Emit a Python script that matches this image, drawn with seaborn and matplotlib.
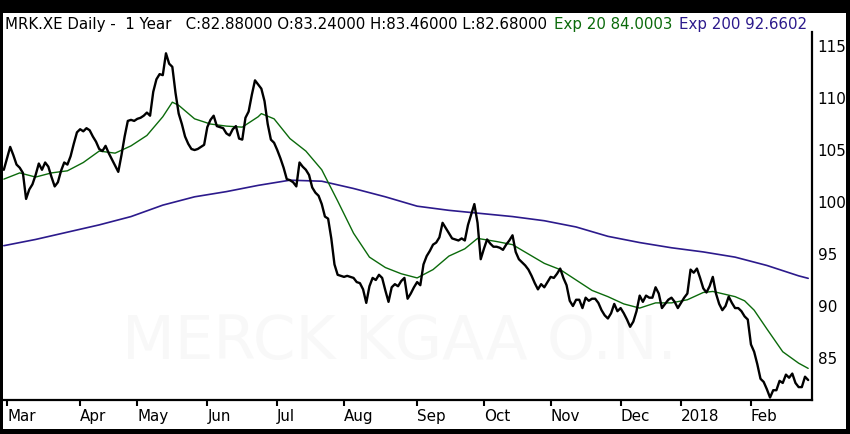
import pandas as pd
import numpy as np
import matplotlib
matplotlib.use("Agg")
import matplotlib.pyplot as plt
import seaborn as sns
from matplotlib.patches import Rectangle

# Xetra trading calendar, 28 Feb 2017 - 27 Feb 2018
holidays = ["2017-04-14", "2017-04-17", "2017-05-01", "2017-10-03",
            "2017-12-25", "2017-12-26", "2018-01-01"]

# daily closes, one list per month
close_feb17 = [103.1]
close_mar = [104.2, 105.3, 104.5, 103.6, 103.3, 102.8, 100.3, 101.2, 101.7, 102.6, 103.7, 103.1,
             103.8, 103.4, 102.4, 101.5, 101.9, 103.0, 103.8, 103.6, 104.4, 105.6, 106.7]
close_apr = [107.0, 106.8, 107.1, 106.9, 106.3, 105.8, 105.1, 104.9, 105.4, 104.7, 104.1, 103.5,
             102.9, 104.5, 106.3, 107.8, 107.9, 107.8]
close_may = [108.0, 108.1, 108.3, 108.6, 108.3, 110.6, 111.8, 112.3, 112.2, 114.3, 113.3, 113.0,
             110.5, 108.5, 107.5, 106.3, 105.6, 105.1, 105.0, 105.1, 105.3, 105.5]
close_jun = [107.2, 107.9, 108.3, 107.3, 107.2, 107.1, 106.6, 106.4, 107.0, 107.3, 106.1, 106.0,
             108.1, 108.7, 110.3, 111.7, 111.3, 110.9, 109.7, 107.5, 106.0, 105.7]
close_jul = [105.0, 104.2, 103.3, 102.2, 102.1, 101.9, 101.5, 103.8, 103.4, 103.1, 102.6, 101.4,
             100.9, 100.6, 99.8, 98.6, 98.4, 96.5, 94.0, 93.0, 92.9]
close_aug = [92.8, 92.9, 92.8, 92.7, 92.3, 92.2, 91.6, 90.3, 91.9, 92.7, 92.5, 93.0,
             92.7, 91.5, 90.4, 91.8, 92.1, 91.9, 92.4, 92.7, 90.7, 91.2, 91.8]
close_sep = [92.3, 92.0, 94.0, 94.8, 95.3, 95.9, 96.1, 96.6, 98.0, 97.5, 97.0, 96.5,
             96.4, 96.3, 96.5, 96.3, 97.8, 98.8, 99.8, 98.0, 94.5]
close_oct = [95.5, 96.4, 96.0, 95.7, 95.7, 95.6, 95.4, 95.9, 96.3, 96.8, 95.2, 94.5,
             94.2, 93.9, 93.5, 92.9, 92.2, 91.6, 92.1, 91.8, 92.3]
close_nov = [92.8, 92.7, 93.1, 93.6, 92.7, 92.0, 90.5, 90.0, 90.6, 90.6, 89.8, 90.8,
             90.5, 90.7, 90.7, 90.3, 89.6, 89.1, 88.8, 89.3, 90.2, 89.5]
close_dec = [89.8, 89.3, 88.7, 88.0, 88.5, 89.5, 91.0, 90.4, 91.0, 90.8, 90.8, 91.8,
             91.2, 89.8, 90.2, 90.6, 90.8, 90.4, 89.8]
close_jan = [90.3, 90.8, 91.2, 93.5, 93.2, 93.6, 92.7, 91.7, 91.3, 91.9, 92.8, 91.2,
             90.2, 89.6, 90.0, 90.9, 90.3, 89.8, 89.8, 89.5, 89.0, 88.7]
close_feb18 = [86.3, 85.6, 84.4, 83.0, 82.7, 82.0, 81.2, 81.9, 81.9, 82.8, 82.6, 83.4,
               83.1, 83.5, 82.6, 82.2, 82.2, 83.2, 82.88]

# 20 day exponential average
ema20_dates = ["2017-02-28", "2017-03-07", "2017-03-14", "2017-03-21", "2017-03-28", "2017-04-04",
               "2017-04-11", "2017-04-20", "2017-04-27", "2017-05-05", "2017-05-12", "2017-05-17",
               "2017-05-19", "2017-05-26", "2017-06-02", "2017-06-09", "2017-06-16", "2017-06-23",
               "2017-06-26", "2017-06-30", "2017-07-07", "2017-07-14", "2017-07-21", "2017-07-28",
               "2017-08-04", "2017-08-11", "2017-08-18", "2017-08-25", "2017-09-01", "2017-09-08",
               "2017-09-15", "2017-09-22", "2017-09-28", "2017-10-09", "2017-10-16", "2017-10-23",
               "2017-10-30", "2017-11-06", "2017-11-13", "2017-11-20", "2017-11-27", "2017-12-04",
               "2017-12-11", "2017-12-18", "2017-12-27", "2018-01-04", "2018-01-11", "2018-01-16",
               "2018-01-25", "2018-01-30", "2018-02-02", "2018-02-08", "2018-02-15", "2018-02-22",
               "2018-02-27"]
ema20_values = [102.2, 102.8, 102.4, 102.8, 103.0, 103.8,
                104.9, 104.7, 105.4, 106.4, 108.2, 109.6,
                109.3, 108.0, 107.5, 107.3, 107.2, 108.2,
                108.5, 108.0, 106.1, 104.9, 103.1, 100.1,
                97.0, 94.7, 93.7, 93.1, 92.7, 93.5,
                94.8, 95.5, 96.5, 96.2, 95.9, 95.0,
                94.1, 93.5, 92.5, 91.5, 90.9, 90.2,
                89.8, 90.3, 90.3, 90.6, 91.3, 91.4,
                90.9, 90.5, 89.6, 87.8, 85.6, 84.5,
                84.0003]

# 200 day exponential average
ema200_dates = ["2017-02-28", "2017-03-14", "2017-03-28", "2017-04-11", "2017-04-27", "2017-05-12",
                "2017-05-26", "2017-06-09", "2017-06-23", "2017-07-07", "2017-07-21", "2017-08-04",
                "2017-08-18", "2017-09-01", "2017-09-15", "2017-09-29", "2017-10-16", "2017-10-30",
                "2017-11-13", "2017-11-27", "2017-12-11", "2017-12-27", "2018-01-11", "2018-01-25",
                "2018-02-08", "2018-02-22", "2018-02-27"]
ema200_values = [95.8, 96.4, 97.1, 97.8, 98.6, 99.7,
                 100.5, 101.0, 101.6, 102.1, 102.0, 101.3,
                 100.5, 99.6, 99.2, 98.9, 98.6, 98.2,
                 97.6, 96.7, 96.1, 95.6, 95.2, 94.7,
                 93.9, 92.9, 92.6602]

y_ticks = [85, 90, 95, 100, 105, 110, 115]

green = "#0b6a0b"
purple = "#2c1a8c"

# build session index
sessions = pd.bdate_range("2017-02-28", "2018-02-27")
sessions = sessions[~sessions.isin(pd.to_datetime(holidays))]
close = (close_feb17 + close_mar + close_apr + close_may + close_jun + close_jul + close_aug
         + close_sep + close_oct + close_nov + close_dec + close_jan + close_feb18)
df = pd.DataFrame({"date": sessions, "close": close})
df["pos"] = np.arange(len(df))

ema20 = pd.DataFrame({"date": pd.to_datetime(ema20_dates), "value": ema20_values})
ema20["pos"] = sessions.get_indexer(ema20["date"])
ema200 = pd.DataFrame({"date": pd.to_datetime(ema200_dates), "value": ema200_values})
ema200["pos"] = sessions.get_indexer(ema200["date"])

# month ticks at first session of each month
month = sessions.to_period("M")
starts = np.flatnonzero(month[1:] != month[:-1]) + 1
month_labels = ["2018" if sessions[i].month == 1 else sessions[i].strftime("%b") for i in starts]

sns.set_style("white")
plt.rcParams["font.family"] = ["DejaVu Sans"]

W, H = 850, 434
fig = plt.figure(figsize=(W / 100, H / 100), dpi=100, facecolor="black")
fig.patches.append(Rectangle((3 / W, 5 / H), 843 / W, 416 / H, transform=fig.transFigure,
                             facecolor="white", edgecolor="none", zorder=-5))
ax = fig.add_axes([3 / W, 34 / H, 809 / W, 368 / H])
ax.set_zorder(1)
ax.set_facecolor("white")

# watermark
ax.text(122 / W, 1 - 343 / H, "MERCK KGAA O.N.", transform=fig.transFigure, fontsize=44,
        color="#f8f8f8", ha="left", va="center", zorder=0.5)

sns.lineplot(data=ema200, x="pos", y="value", ax=ax, color=purple, linewidth=1.2)
sns.lineplot(data=ema20, x="pos", y="value", ax=ax, color=green, linewidth=1.0)
sns.lineplot(data=df, x="pos", y="close", ax=ax, color="black", linewidth=1.7)

ax.set_xlim(-0.26, 254.2)
ax.set_ylim(80.96, 116.35)
ax.set_xlabel("")
ax.set_ylabel("")

ax.set_xticks(starts)
ax.set_xticklabels(month_labels, ha="left", fontsize=10.9)
ax.tick_params(axis="x", direction="out", length=4.5, width=1.5, color="black", pad=2,
               bottom=True, labelcolor="black")

ax.yaxis.tick_right()
ax.set_yticks(y_ticks)
ax.set_yticklabels([str(v) for v in y_ticks], fontsize=10.9)
ax.tick_params(axis="y", length=0, pad=4, labelcolor="black")

for side in ["top", "left"]:
    ax.spines[side].set_visible(False)
for side in ["bottom", "right"]:
    ax.spines[side].set_visible(True)
    ax.spines[side].set_color("black")
    ax.spines[side].set_linewidth(1.6)

# header line, three coloured parts
r = fig.canvas.get_renderer()
parts = [("MRK.XE Daily -  1 Year   C:82.88000 O:83.24000 H:83.46000 L:82.68000", "black"),
         ("Exp 20 84.0003", green),
         ("Exp 200 92.6602", purple)]
x = 5 / W
for s, c in parts:
    t = fig.text(x, 1 - 24 / H, s, color=c, fontsize=10.8, ha="left", va="center")
    bb = t.get_window_extent(renderer=r)
    x = (bb.x1 + 7) / W

fig.savefig("out.png", dpi=100, facecolor="black")
